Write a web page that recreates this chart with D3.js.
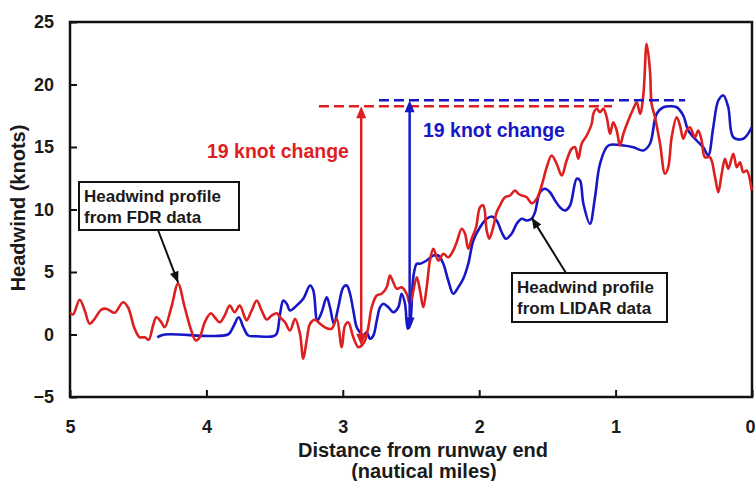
<!DOCTYPE html>
<html>
<head>
<meta charset="utf-8">
<script src="https://cdn.jsdelivr.net/npm/d3@7"></script>
<style>
  body { margin: 0; background: #fff; }
  text { font-family: "Liberation Sans", Arial, sans-serif; font-weight: bold; fill: #1a1a1a; }
</style>
</head>
<body>
<div id="chart"></div>
<script>
// distance from runway end (nm) and headwind (knots)
var fdrDist = [5.00,4.978,4.929,4.892,4.856,4.819,4.771,4.734,4.709,4.672,4.611,4.575,4.526,4.489,4.452,4.423,4.391,4.367,4.331,4.306,
  4.257,4.208,4.159,4.111,4.078,4.049,4.012,3.968,3.939,3.902,3.866,3.829,3.793,3.756,3.719,3.705,3.668,3.631,3.595,3.558,
  3.521,3.485,3.460,3.424,3.387,3.350,3.314,3.290,3.265,3.240,3.204,3.167,3.118,3.081,3.045,3.008,2.984,2.960,2.923,2.886,
  2.861,2.837,2.813,2.788,2.751,2.715,2.678,2.654,2.630,2.605,2.568,2.532,2.507,2.458,2.434,2.410,2.385,2.361,2.336,2.300,
  2.263,2.227,2.190,2.165,2.128,2.104,2.080,2.055,2.023,1.994,1.970,1.945,1.926,1.897,1.872,1.848,1.811,1.774,1.738,1.713,
  1.688,1.652,1.615,1.578,1.542,1.505,1.469,1.432,1.395,1.359,1.322,1.298,1.273,1.249,1.212,1.175,1.163,1.139,1.114,1.090,
  1.065,1.041,1.017,0.992,0.968,0.943,0.907,0.870,0.845,0.821,0.797,0.772,0.748,0.736,0.711,0.674,0.638,0.614,0.589,0.552,
  0.528,0.504,0.479,0.455,0.418,0.394,0.369,0.345,0.308,0.271,0.247,0.222,0.198,0.174,0.137,0.112,0.088,0.064,0.039,0.002];
var fdrWind = [1.76,1.60,2.78,1.92,0.86,1.26,1.98,2.06,1.92,1.74,2.58,2.18,0.46,-0.22,-0.22,-0.42,0.72,1.38,0.98,0.58,
  2.18,4.06,2.18,0.32,-0.48,-0.22,0.98,1.70,1.38,0.98,1.52,2.32,1.78,2.32,1.38,1.12,1.92,2.72,1.92,1.20,
  1.52,1.70,1.38,0.98,0.32,1.26,0.06,-1.94,-0.48,0.86,1.18,0.86,0.50,0.46,1.26,-1.02,0.72,0.98,-0.22,-1.02,
  -0.88,-0.48,0.58,2.18,3.12,3.26,3.78,4.72,4.18,3.66,3.78,3.26,2.46,4.58,3.52,2.18,3.78,5.92,6.86,5.92,
  6.46,6.18,6.72,7.38,8.46,8.06,6.86,7.66,8.58,10.18,10.32,8.32,7.66,8.58,9.78,10.32,10.98,11.12,11.52,11.26,
  11.12,10.98,10.50,10.86,11.92,13.38,14.32,13.66,12.72,13.92,14.86,14.98,14.06,15.26,15.92,16.86,17.66,18.06,17.78,18.06,
  17.38,16.06,16.98,16.32,15.12,16.06,17.12,18.06,18.58,17.66,19.12,23.26,21.12,18.46,17.38,15.26,12.86,13.38,15.78,17.38,
  16.72,15.66,16.32,16.58,15.78,16.32,15.52,14.18,14.18,12.58,11.38,12.86,14.06,13.26,14.46,13.38,13.78,12.98,13.12,11.52];

var lidarDist = [4.360,4.306,3.842,3.805,3.763,3.729,3.693,3.631,3.510,3.485,3.460,3.436,3.411,3.387,3.338,3.290,3.240,3.216,3.187,3.155,
  3.118,3.094,3.065,3.033,2.996,2.971,2.947,2.923,2.898,2.874,2.850,2.825,2.801,2.776,2.751,2.727,2.703,2.666,2.630,2.593,
  2.569,2.544,2.524,2.507,2.483,2.458,2.434,2.385,2.336,2.300,2.263,2.227,2.190,2.153,2.117,2.080,2.043,1.994,1.945,1.908,
  1.872,1.835,1.804,1.762,1.725,1.688,1.652,1.615,1.591,1.554,1.518,1.481,1.444,1.408,1.371,1.334,1.285,1.261,1.236,1.188,
  1.151,1.114,1.053,0.943,0.870,0.797,0.748,0.699,0.650,0.601,0.552,0.504,0.467,0.406,0.357,0.321,0.284,0.247,0.210,0.174,
  0.137,0.064,0.002];
var lidarWind = [-0.22,0,0,0.58,1.38,0.58,-0.08,-0.14,-0.14,0.06,1.66,2.72,2.46,1.92,2.32,2.86,3.92,3.52,1.12,1.78,
  2.98,2.18,0.86,2.18,3.78,3.92,3.26,1.92,0.58,0.18,-0.08,0.18,-0.34,-0.08,1.12,2.18,2.46,2.18,1.78,2.18,
  3.26,2.46,0.46,0.86,4.58,5.66,5.66,5.92,6.32,6.32,5.66,4.32,3.26,3.78,4.46,5.66,7.52,8.58,9.26,9.44,
  9.12,8.18,7.66,8.06,8.86,9.26,9.12,9.26,9.78,11.38,11.66,11.38,10.72,10.18,9.92,10.32,12.46,12.32,10.46,8.86,
  10.98,13.66,15.12,15.12,14.98,14.72,15.26,17.66,18.18,18.26,18.18,17.52,16.32,15.52,14.98,14.32,16.58,18.72,19.12,18.18,
  15.78,15.66,16.58];

var xTicks = [5, 4, 3, 2, 1, 0];
var yTicks = [-5, 0, 5, 10, 15, 20, 25];

// the two "19 knot change" markers: [distance, low, high, dash start, dash end]
var fdrChange = [2.865, -0.9, 18.26, 3.175, 1.026];
var lidarChange = [2.51, 0.4, 18.75, 2.735, 0.49];

var redColor = "#dd1f1f";
var blueColor = "#1717c8";

var svg = d3.select("#chart").append("svg")
  .attr("width", 755)
  .attr("height", 481);

var x = d3.scaleLinear().domain([5, 0]).range([70, 752]);
var y = d3.scaleLinear().domain([-5, 25]).range([397, 22]);

// axes with inward ticks
var xAxis = svg.append("g")
  .attr("transform", "translate(0,397)")
  .call(d3.axisBottom(x).tickValues(xTicks).tickSizeInner(-7).tickSizeOuter(0).tickPadding(23).tickFormat(d3.format("d")));
var yAxis = svg.append("g")
  .attr("transform", "translate(70,0)")
  .call(d3.axisLeft(y).tickValues(yTicks).tickSizeInner(-7).tickSizeOuter(0).tickPadding(16).tickFormat(d3.format("d")));
[xAxis, yAxis].forEach(function(a) {
  a.select(".domain").remove();
  a.selectAll("line").attr("stroke", "#111").attr("stroke-width", 2);
  a.selectAll("text").attr("font-size", 18).attr("font-family", "Liberation Sans, Arial, sans-serif").attr("fill", "#1a1a1a");
});
// last label sits on the right edge of the page, keep it inside
xAxis.selectAll(".tick text").filter(d => d === 0).attr("text-anchor", "end").attr("x", 3);

// frame
svg.append("rect")
  .attr("x", x(5)).attr("y", y(25))
  .attr("width", x(0) - x(5)).attr("height", y(-5) - y(25))
  .attr("fill", "none").attr("stroke", "#111").attr("stroke-width", 2.5);

var line = d3.line()
  .x(d => x(d[0]))
  .y(d => y(d[1]))
  .curve(d3.curveCatmullRom.alpha(0.5));

svg.append("path")
  .datum(d3.zip(lidarDist, lidarWind))
  .attr("d", line)
  .attr("fill", "none").attr("stroke", blueColor).attr("stroke-width", 2.6);

svg.append("path")
  .datum(d3.zip(fdrDist, fdrWind))
  .attr("d", line)
  .attr("fill", "none").attr("stroke", redColor).attr("stroke-width", 2.6);

// dashed reference lines and double arrows
function arrowHead(g, px, py, dir, color, w, h) {
  g.append("path")
    .attr("d", `M${px},${py} L${px - w / 2},${py + dir * h} L${px + w / 2},${py + dir * h} Z`)
    .attr("fill", color);
}
function changeMarker(c, color) {
  var g = svg.append("g");
  g.append("line")
    .attr("x1", x(c[3])).attr("x2", x(c[4]))
    .attr("y1", y(c[2])).attr("y2", y(c[2]))
    .attr("stroke", color).attr("stroke-width", 2.5).attr("stroke-dasharray", "10,5");
  g.append("line")
    .attr("x1", x(c[0])).attr("x2", x(c[0]))
    .attr("y1", y(c[1]) - 8).attr("y2", y(c[2]) + 8)
    .attr("stroke", color).attr("stroke-width", 2.5);
  arrowHead(g, x(c[0]), y(c[2]), 1, color, 10, 12);
  arrowHead(g, x(c[0]), y(c[1]), -1, color, 10, 12);
}
changeMarker(fdrChange, redColor);
changeMarker(lidarChange, blueColor);

svg.append("text")
  .attr("x", 207).attr("y", 158)
  .attr("font-family", "Lato, sans-serif").attr("font-size", 19.5)
  .style("fill", redColor)
  .text("19 knot change");
svg.append("text")
  .attr("x", 423).attr("y", 137)
  .attr("font-family", "Lato, sans-serif").attr("font-size", 19.5)
  .style("fill", blueColor)
  .text("19 knot change");

// callout boxes
function callout(bx, by, bw, bh, lines, from, tip) {
  svg.append("line")
    .attr("x1", from[0]).attr("y1", from[1])
    .attr("x2", tip[0]).attr("y2", tip[1])
    .attr("stroke", "#111").attr("stroke-width", 2);
  var ang = Math.atan2(tip[1] - from[1], tip[0] - from[0]) * 180 / Math.PI;
  svg.append("path")
    .attr("d", "M0,0 L-11,-4.5 L-11,4.5 Z")
    .attr("transform", `translate(${tip[0]},${tip[1]}) rotate(${ang})`)
    .attr("fill", "#111");
  svg.append("rect")
    .attr("x", bx).attr("y", by).attr("width", bw).attr("height", bh)
    .attr("fill", "#fff").attr("stroke", "#111").attr("stroke-width", 2);
  lines.forEach(function(t, i) {
    svg.append("text")
      .attr("x", bx + 5).attr("y", by + 20 + i * 20.5)
      .attr("font-size", 17)
      .text(t);
  });
}
callout(79, 182, 160, 48, ["Headwind profile", "from FDR data"], [158, 230], [x(4.207), y(4.15)]);
callout(512, 273, 155, 49, ["Headwind profile", "from LIDAR data"], [566, 273], [x(1.615), y(9.35)]);

// axis titles
svg.append("text")
  .attr("transform", "translate(25,208) rotate(-90)")
  .attr("text-anchor", "middle")
  .attr("font-size", 20)
  .text("Headwind (knots)");
svg.append("text")
  .attr("x", 423).attr("y", 457)
  .attr("text-anchor", "middle")
  .attr("font-size", 20)
  .text("Distance from runway end");
svg.append("text")
  .attr("x", 424).attr("y", 478)
  .attr("text-anchor", "middle")
  .attr("font-size", 20)
  .text("(nautical miles)");
</script>
</body>
</html>
